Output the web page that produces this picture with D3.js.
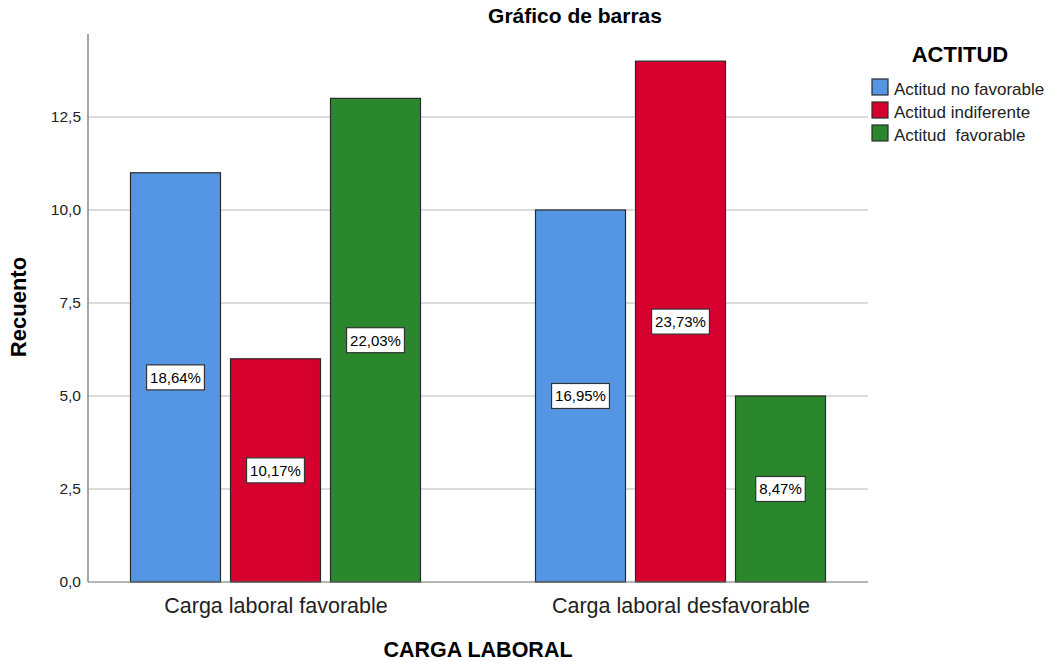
<!DOCTYPE html>
<html>
<head>
<meta charset="utf-8">
<script src="https://cdn.jsdelivr.net/npm/d3@7"></script>
<style>
    body { margin: 0; background: #fff; }
    text { font-family: "Liberation Sans", Arial, sans-serif; fill: #000; }
</style>
</head>
<body>
<script>
const categories = ["Carga laboral favorable", "Carga laboral desfavorable"]
const series = ["Actitud no favorable", "Actitud indiferente", "Actitud  favorable"]
const counts = [
    [11, 6, 13],
    [10, 14, 5]
]
const percentLabels = [
    ["18,64%", "10,17%", "22,03%"],
    ["16,95%", "23,73%", "8,47%"]
]
const yTicks = [0, 2.5, 5, 7.5, 10, 12.5]
const colors = ["#5596e4", "#d6002f", "#2b872b"]

const width = 1055
const height = 661
const plotLeft = 88, plotRight = 868, plotTop = 34, plotBottom = 582

const svg = d3.select("body").append("svg")
    .attr("width", width)
    .attr("height", height)

const yScale = d3.scaleLinear()
    .domain([0, 14.73])
    .range([plotBottom, plotTop])

const xScale = d3.scalePoint()
    .domain(categories)
    .range([plotLeft + 187.5, plotRight - 187.5])

const subScale = d3.scalePoint()
    .domain(series)
    .range([-100, 100])

const barWidth = 90

/* gridlines */
svg.append("g")
    .selectAll("line")
    .data(yTicks.filter(d => d > 0))
    .enter()
    .append("line")
    .attr("x1", plotLeft)
    .attr("x2", plotRight)
    .attr("y1", d => yScale(d))
    .attr("y2", d => yScale(d))
    .attr("stroke", "#cfcfcf")
    .attr("stroke-width", 1.5)

/* y axis */
const yAxis = d3.axisLeft(yScale)
    .tickValues(yTicks)
    .tickSize(0)
    .tickPadding(7)
    .tickFormat(d => d3.format(".1f")(d).replace(".", ","))
const yAxisG = svg.append("g")
    .attr("transform", `translate(${plotLeft}, 0)`)
    .call(yAxis)
yAxisG.select(".domain").remove()
yAxisG.attr("font-family", null).attr("font-size", null)
yAxisG.selectAll("text")
    .style("font-size", "15.5px")
    .style("fill", "#222")

svg.append("line")
    .attr("x1", plotLeft).attr("x2", plotLeft)
    .attr("y1", plotTop).attr("y2", plotBottom)
    .attr("stroke", "#8a8a8a")
    .attr("stroke-width", 1.5)

/* bars */
const groups = svg.append("g")
    .selectAll("g")
    .data(categories)
    .enter()
    .append("g")
    .attr("transform", d => `translate(${xScale(d)}, 0)`)

groups.each(function (cat, ci) {
    const g = d3.select(this)
    const rows = series.map((s, si) => ({ s: s, si: si, v: counts[ci][si], label: percentLabels[ci][si] }))

    g.selectAll("rect.bar")
        .data(rows)
        .enter()
        .append("rect")
        .attr("class", "bar")
        .attr("x", d => subScale(d.s) - barWidth / 2)
        .attr("y", d => yScale(d.v))
        .attr("width", barWidth)
        .attr("height", d => yScale(0) - yScale(d.v))
        .attr("fill", d => colors[d.si])
        .attr("stroke", "#2a2a2a")
        .attr("stroke-width", 1.2)

    const labels = g.selectAll("g.lbl")
        .data(rows)
        .enter()
        .append("g")
        .attr("class", "lbl")
        .attr("transform", d => `translate(${subScale(d.s)}, ${yScale(d.v / 2)})`)

    labels.append("rect")
        .attr("fill", "#fff")
        .attr("stroke", "#333")
        .attr("stroke-width", 1.2)

    labels.append("text")
        .attr("text-anchor", "middle")
        .attr("dy", "0.36em")
        .style("font-size", "15px")
        .text(d => d.label)
        .each(function () {
            const w = this.getComputedTextLength() + 7
            d3.select(this.parentNode).select("rect")
                .attr("x", -w / 2)
                .attr("y", -12.5)
                .attr("width", w)
                .attr("height", 25)
        })
})

/* baseline */
svg.append("line")
    .attr("x1", plotLeft).attr("x2", plotRight)
    .attr("y1", plotBottom).attr("y2", plotBottom)
    .attr("stroke", "#6e6e6e")
    .attr("stroke-width", 1.2)

/* x axis labels */
const xAxis = d3.axisBottom(xScale).tickSize(0).tickPadding(0)
const xAxisG = svg.append("g")
    .attr("transform", `translate(0, ${plotBottom})`)
    .call(xAxis)
xAxisG.select(".domain").remove()
xAxisG.attr("font-family", null).attr("font-size", null)
xAxisG.selectAll("text")
    .attr("y", 31)
    .attr("dy", 0)
    .style("font-size", "21.5px")
    .style("fill", "#222")

/* titles */
svg.append("text")
    .attr("x", 575)
    .attr("y", 23)
    .attr("text-anchor", "middle")
    .style("font-size", "21px")
    .style("font-weight", "bold")
    .text("Gráfico de barras")

svg.append("text")
    .attr("x", 478)
    .attr("y", 657)
    .attr("text-anchor", "middle")
    .style("font-size", "21.5px")
    .style("font-weight", "bold")
    .text("CARGA LABORAL")

svg.append("text")
    .attr("transform", `translate(26, 307) rotate(-90)`)
    .attr("text-anchor", "middle")
    .style("font-size", "22px")
    .style("font-weight", "bold")
    .text("Recuento")

/* legend */
const legend = svg.append("g")
legend.append("text")
    .attr("x", 960)
    .attr("y", 62)
    .attr("text-anchor", "middle")
    .style("font-size", "22px")
    .style("font-weight", "bold")
    .text("ACTITUD")

const legendItems = legend.selectAll("g.item")
    .data(series)
    .enter()
    .append("g")
    .attr("class", "item")
    .attr("transform", (d, i) => `translate(872, ${79 + i * 23})`)

legendItems.append("rect")
    .attr("width", 16)
    .attr("height", 16)
    .attr("fill", (d, i) => colors[i])
    .attr("stroke", "#2a2a2a")
    .attr("stroke-width", 1.2)

legendItems.append("text")
    .attr("x", 22)
    .attr("y", 16)
    .style("font-size", "17px")
    .style("fill", "#222")
    .attr("xml:space", "preserve")
    .text(d => d)
</script>
</body>
</html>
